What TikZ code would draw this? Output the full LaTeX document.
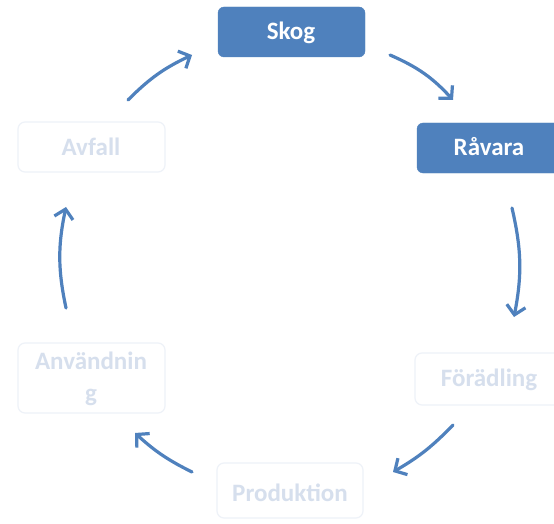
\documentclass[tikz,border=0pt]{standalone}
\usepackage{fontspec}
\setmainfont{Carlito}
\usetikzlibrary{arrows.meta}
\definecolor{accent}{HTML}{4F81BD}
\definecolor{faintline}{HTML}{EEF2F8}
\definecolor{fainttext}{HTML}{D6DFED}
\tikzset{
  bluebox/.style={draw=accent, fill=accent, rounded corners=6pt},
  bluetext/.style={text=white, font=\fontsize{25}{28}\selectfont\bfseries},
  palebox/.style={draw=faintline, line width=1.2pt, fill=white, rounded corners=7pt},
  paletext/.style={text=fainttext, font=\fontsize{25}{32}\selectfont\bfseries, align=center},
  cyc/.style={draw=accent, line width=3.2pt, line cap=round, -{Straight Barb[length=9pt,width=19pt]}}
}
\begin{document}
\begin{tikzpicture}[x=1pt,y=-1pt]
\clip (0,0) rectangle (554,524);
\fill[white] (0,0) rectangle (554,524);
% boxes
\path[bluebox] (218,7) rectangle (365,57);
\node[bluetext] (skog) at (291,33) {Skog};
\path[bluebox] (417,123) rectangle (566,173);
\node[bluetext] (ravara) at (489,147) {Råvara};
\path[palebox] (415,353) rectangle (566,405);
\node[paletext] (foradling) at (489,380) {Förädling};
\path[palebox] (217,463) rectangle (363,518);
\node[paletext] (produktion) at (290,493) {Produktion};
\path[palebox] (18,343) rectangle (165,413);
\node[paletext] (anvandning) at (91,379) {Användnin\\g};
\path[palebox] (18,122) rectangle (165,172);
\node[paletext] (avfall) at (91,147) {Avfall};
% arrow end points
\coordinate (a1s) at (390,55); \coordinate (a1e) at (453,100);
\coordinate (a2s) at (512,208); \coordinate (a2e) at (514,317);
\coordinate (a3s) at (453,425); \coordinate (a3e) at (393,472);
\coordinate (a4s) at (192,472); \coordinate (a4e) at (135,433);
\coordinate (a5s) at (66,308); \coordinate (a5e) at (66,207);
\coordinate (a6s) at (128,100); \coordinate (a6e) at (192,55);
\draw[cyc] (a1s) to[bend left=12] (a1e);
\draw[cyc] (a2s) to[bend left=12] (a2e);
\draw[cyc] (a3s) to[bend left=8] (a3e);
\draw[cyc] (a4s) to[bend left=8] (a4e);
\draw[cyc] (a5s) to[bend left=12] (a5e);
\draw[cyc] (a6s) to[bend left=10] (a6e);
\end{tikzpicture}
\end{document}
